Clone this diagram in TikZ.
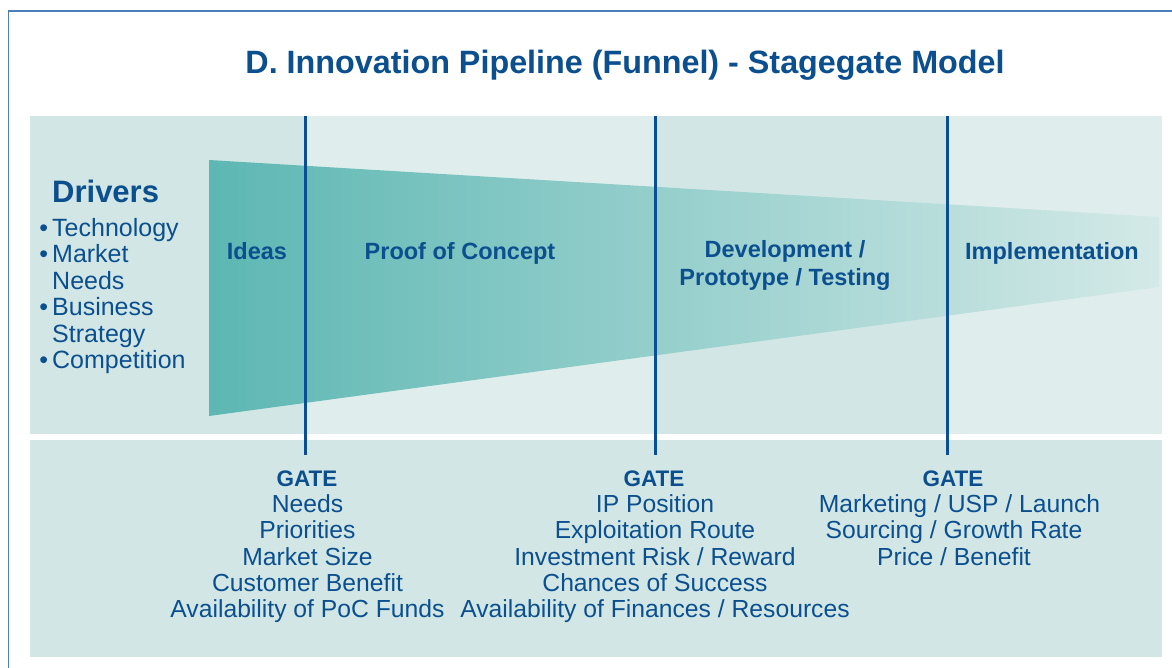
\documentclass[tikz,border=0pt]{standalone}
\usepackage{fontspec}
\setmainfont{Liberation Sans}
\definecolor{tblue}{HTML}{0B4F8F}
\definecolor{lineblue}{HTML}{0A4F94}
\definecolor{bandA}{HTML}{D2E7E5}
\definecolor{bandB}{HTML}{DFEEED}
\definecolor{funL}{HTML}{5DB7B3}
\definecolor{funR}{HTML}{D3E9E7}
\definecolor{framec}{HTML}{4A80B8}
\begin{document}
\begin{tikzpicture}[x=1pt,y=-1pt,
  txt/.style={inner sep=0pt, text=tblue, anchor=base},
  titlefont/.style={font=\fontsize{32.3}{38}\selectfont\bfseries},
  headfont/.style={font=\fontsize{31}{36}\selectfont\bfseries},
  stagefont/.style={font=\fontsize{23.5}{28}\selectfont\bfseries},
  gatefont/.style={font=\fontsize{22.5}{27}\selectfont\bfseries},
  itemfont/.style={font=\fontsize{24.7}{28}\selectfont},
  drvfont/.style={font=\fontsize{25}{28}\selectfont},
  gateline/.style={draw=lineblue, line width=3pt}]
\useasboundingbox (0,0) rectangle (1172,667);
\fill[white] (0,0) rectangle (1172,667);
\draw[framec, line width=1.6pt] (8.5,11) rectangle (1200,700);
% bands
\fill[bandA] (30,116) rectangle (305,434);
\fill[bandB] (305,116) rectangle (655,434);
\fill[bandA] (655,116) rectangle (947,434);
\fill[bandB] (947,116) rectangle (1162,434);
\fill[bandA] (30,440) rectangle (1162,657);
% funnel
\shade[left color=funL, right color=funR] (209,160) -- (1159,217) -- (1159,287) -- (209,416) -- cycle;
% gate lines
\coordinate (g1t) at (305,116); \coordinate (g1b) at (305,455);
\coordinate (g2t) at (655,116); \coordinate (g2b) at (655,455);
\coordinate (g3t) at (947,116); \coordinate (g3b) at (947,455);
\draw[gateline] (g1t) -- (g1b);
\draw[gateline] (g2t) -- (g2b);
\draw[gateline] (g3t) -- (g3b);
% title
\node[txt, titlefont] (title) at (625,73) {D. Innovation Pipeline (Funnel) - Stagegate Model};
% drivers
\node[txt, headfont, anchor=base west] (drivers) at (52,202) {Drivers};
\node[txt, drvfont, anchor=base west] (d1) at (52,236) {\llap{\textbullet\hspace{4pt}}Technology};
\node[txt, drvfont, anchor=base west] (d2) at (52,262.5) {\llap{\textbullet\hspace{4pt}}Market};
\node[txt, drvfont, anchor=base west] (d2b) at (52,289) {Needs};
\node[txt, drvfont, anchor=base west] (d3) at (52,315.5) {\llap{\textbullet\hspace{4pt}}Business};
\node[txt, drvfont, anchor=base west] (d3b) at (52,342) {Strategy};
\node[txt, drvfont, anchor=base west] (d4) at (52,368.5) {\llap{\textbullet\hspace{4pt}}Competition};
% stages
\node[txt, stagefont] (ideas) at (257,259) {Ideas};
\node[txt, stagefont] (poc) at (460,259) {Proof of Concept};
\node[txt, stagefont] (dev1) at (785,257) {Development /};
\node[txt, stagefont] (dev2) at (785,285) {Prototype / Testing};
\node[txt, stagefont] (impl) at (1052,259) {Implementation};
% gate 1
\node[txt, gatefont] (gate1) at (307,486) {GATE};
\node[txt, itemfont] (g1a) at (307.5,512.5) {Needs};
\node[txt, itemfont] (g1c) at (307.5,538.8) {Priorities};
\node[txt, itemfont] (g1d) at (307.5,565.1) {Market Size};
\node[txt, itemfont] (g1e) at (307.5,591.4) {Customer Benefit};
\node[txt, itemfont] (g1f) at (307.5,617.7) {Availability of PoC Funds};
% gate 2
\node[txt, gatefont] (gate2) at (654,486) {GATE};
\node[txt, itemfont] (g2a) at (655,512.5) {IP Position};
\node[txt, itemfont] (g2c) at (655,538.8) {Exploitation Route};
\node[txt, itemfont] (g2d) at (655,565.1) {Investment Risk / Reward};
\node[txt, itemfont] (g2e) at (655,591.4) {Chances of Success};
\node[txt, itemfont] (g2f) at (655,617.7) {Availability of Finances / Resources};
% gate 3
\node[txt, gatefont] (gate3) at (953,486) {GATE};
\node[txt, itemfont] (g3a) at (959.5,512.5) {Marketing / USP / Launch};
\node[txt, itemfont] (g3c) at (954,538.8) {Sourcing / Growth Rate};
\node[txt, itemfont] (g3d) at (954,565.1) {Price / Benefit};
\end{tikzpicture}
\end{document}
